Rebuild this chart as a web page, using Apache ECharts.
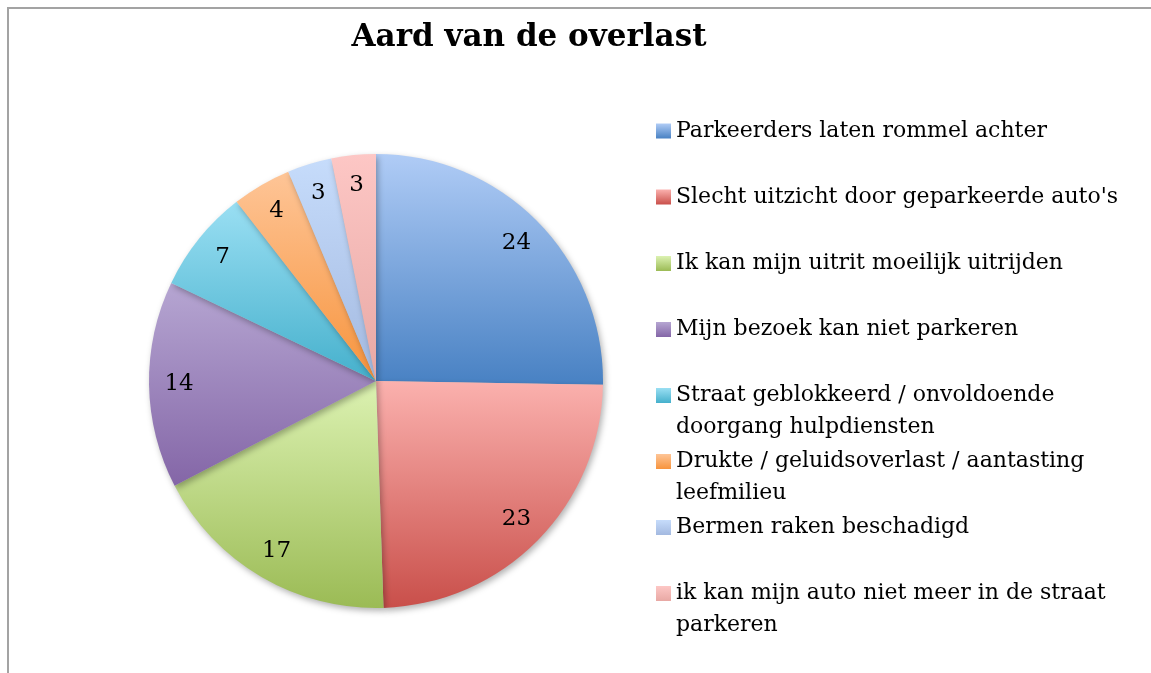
<!DOCTYPE html>
<html>
<head>
<meta charset="utf-8">
<script src="https://cdn.jsdelivr.net/npm/echarts@6/dist/echarts.min.js"></script>
<style>
  body { margin: 0; background: #fff; }
  #frame { position: absolute; left: 7px; top: 7px; width: 1160px; height: 680px; border-left: 2px solid #a3a3a3; border-top: 2px solid #a3a3a3; }
  #myChart { position: absolute; left: 0; top: 0; width: 1151px; height: 673px; }
</style>
</head>
<body>
<div id="frame"></div>
<div id="myChart"></div>
<script>
// categorieen (legend volgorde)
var categories = [
  'Parkeerders laten rommel achter',
  "Slecht uitzicht door geparkeerde auto's",
  'Ik kan mijn uitrit moeilijk uitrijden',
  'Mijn bezoek kan niet parkeren',
  'Straat geblokkeerd / onvoldoende\ndoorgang hulpdiensten',
  'Drukte / geluidsoverlast / aantasting\nleefmilieu',
  'Bermen raken beschadigd',
  'ik kan mijn auto niet meer in de straat\nparkeren'
]
var values = [24, 23, 17, 14, 7, 4, 3, 3]
// kleurverloop boven -> onder
var colorTop = ['#b0ccf6', '#fbb1ae', '#dcf2b2', '#b6a6d2', '#9adff3', '#fec597', '#c6dcfb', '#fdc7c5']
var colorBottom = ['#4881c3', '#c94f4a', '#9bbb55', '#8466a7', '#45b0cc', '#f7943d', '#a3b9e0', '#e8a8a4']
var legendCenters = [131, 197, 263.5, 329.5, 395.5, 461.5, 527.5, 593.5]

var chartDom = document.getElementById('myChart')
var myChart = echarts.init(chartDom)
var font = 'DejaVu Serif'

function grad(i) {
  return new echarts.graphic.LinearGradient(0, 0, 0, 1, [
    { offset: 0, color: colorTop[i] },
    { offset: 1, color: colorBottom[i] }
  ])
}

var pieData = values.map(function (v, i) {
  return { name: categories[i], value: v, itemStyle: { color: grad(i) } }
})

var legends = categories.map(function (name, i) {
  var twoLines = name.indexOf('\n') >= 0
  return {
    data: [name],
    left: 656,
    top: legendCenters[i] - (twoLines ? 48 : 16),
    padding: 0,
    icon: 'rect',
    itemWidth: 15,
    itemHeight: 15,
    selectedMode: false,
    // lege eerste regel zodat de eerste tekstregel naast het blokje staat
    formatter: function (n) { return twoLines ? '\n' + n : n },
    textStyle: {
      fontFamily: font,
      fontSize: 22,
      color: '#000',
      lineHeight: 32
    }
  }
})

var option = {
  backgroundColor: 'transparent',
  animation: false,
  title: {
    text: 'Aard van de overlast',
    left: 524,
    top: 17,
    textAlign: 'center',
    textStyle: { fontFamily: font, fontSize: 31, fontWeight: 'bold', color: '#000' }
  },
  legend: legends,
  series: [
    {
      name: 'overlast',
      type: 'pie',
      center: [376, 381],
      radius: 227,
      startAngle: 90,
      clockwise: true,
      silent: true,
      label: { show: false },
      labelLine: { show: false },
      itemStyle: {
        borderWidth: 0,
        shadowBlur: 6,
        shadowOffsetX: 2,
        shadowOffsetY: 3,
        shadowColor: 'rgba(0,0,0,0.3)'
      },
      data: pieData
    },
    {
      // alleen voor de labels: positie op ~0.86 van de straal
      name: 'labels',
      type: 'pie',
      center: [376, 381],
      radius: 388,
      startAngle: 90,
      clockwise: true,
      silent: true,
      z: 3,
      itemStyle: { color: 'rgba(0,0,0,0)', borderWidth: 0 },
      label: {
        show: true,
        position: 'inside',
        fontFamily: font,
        fontSize: 23,
        color: '#000',
        formatter: '{c}'
      },
      labelLine: { show: false },
      data: values.map(function (v, i) { return { name: categories[i], value: v } })
    }
  ]
}
myChart.setOption(option)
</script>
</body>
</html>
